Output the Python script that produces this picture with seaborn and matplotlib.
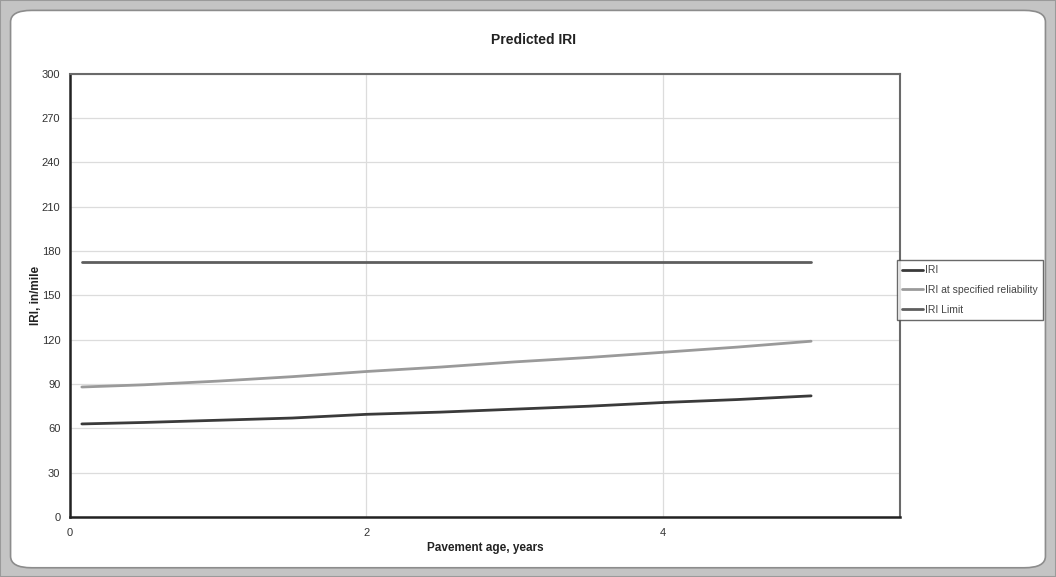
import numpy as np
import pandas as pd
import matplotlib
matplotlib.use("Agg")
import matplotlib.pyplot as plt
import seaborn as sns
from matplotlib.patches import FancyBboxPatch, Rectangle

# ---- data ----
age_years = [0.08, 0.5, 1.0, 1.5, 2.0, 2.5, 3.0, 3.5, 4.0, 4.5, 5.0]
iri = [63, 64, 65.5, 67, 69.5, 71, 73, 75, 77.5, 79.5, 82]
iri_reliability = [88, 89.5, 92, 95, 98.5, 101.5, 105, 108, 111.5, 115, 119]
iri_limit = [172.5] * len(age_years)

series_names = ["IRI", "IRI at specified reliability", "IRI Limit"]
series_colors = ["#3a3a3a", "#9a9a9a", "#5e5e5e"]

y_ticks = list(range(0, 301, 30))
x_ticks = [0, 2, 4]

df = pd.DataFrame({
    "age": age_years * 3,
    "value": iri + iri_reliability + iri_limit,
    "series": [series_names[0]] * len(age_years)
              + [series_names[1]] * len(age_years)
              + [series_names[2]] * len(age_years),
})

sns.set_theme(style="white")
plt.rcParams["font.family"] = ["Liberation Sans", "DejaVu Sans"]

fig = plt.figure(figsize=(10.56, 5.77), dpi=100)

# outer Excel-style frame
fig.patches.append(Rectangle((0, 0), 1, 1, transform=fig.transFigure,
                             facecolor="#c4c4c4", edgecolor="#9a9a9a", lw=1.5, zorder=-10))
fig.patches.append(FancyBboxPatch((0.010, 0.016), 0.980, 0.966,
                                  boxstyle="round,pad=0,rounding_size=0.02",
                                  transform=fig.transFigure, facecolor="white",
                                  edgecolor="#8c8c8c", lw=1.2, zorder=-9))

ax = fig.add_axes([0.0663, 0.104, 0.786, 0.768])

sns.lineplot(data=df, x="age", y="value", hue="series", hue_order=series_names,
             palette=series_colors, linewidth=2.0, ax=ax, legend=True,
             estimator=None, sort=False)

ax.set_xlim(0, 5.6)
ax.set_ylim(0, 300)
ax.set_xticks(x_ticks)
ax.set_yticks(y_ticks)
ax.tick_params(axis="both", labelsize=8, colors="#333333", length=3, width=1,
               direction="out", pad=4)
ax.tick_params(axis="x", pad=5)
ax.grid(True, color="#dcdcdc", linewidth=0.9)
ax.set_axisbelow(True)

for side in ["left", "bottom"]:
    ax.spines[side].set_color("#222222")
    ax.spines[side].set_linewidth(1.8)
for side in ["top", "right"]:
    ax.spines[side].set_color("#6a6a6a")
    ax.spines[side].set_linewidth(1.5)

ax.set_xlabel("Pavement age, years", fontsize=8.5, fontweight="bold", color="#222222", labelpad=3)
ax.set_ylabel("IRI, in/mile", fontsize=8.5, fontweight="bold", color="#222222", labelpad=0)
fig.text(0.505, 0.930, "Predicted IRI", ha="center", va="center",
         fontsize=10, fontweight="bold", color="#222222")

leg = ax.legend(loc="center left", bbox_to_anchor=(0.9965, 0.512), fontsize=7.5,
                frameon=True, fancybox=False, handlelength=2.0, handletextpad=0.2,
                borderpad=0.5, labelspacing=0.95, borderaxespad=0)
leg.get_frame().set_edgecolor("#444444")
leg.get_frame().set_linewidth(1.0)
for t in leg.get_texts():
    t.set_color("#444444")

fig.savefig("out.png", dpi=100)
